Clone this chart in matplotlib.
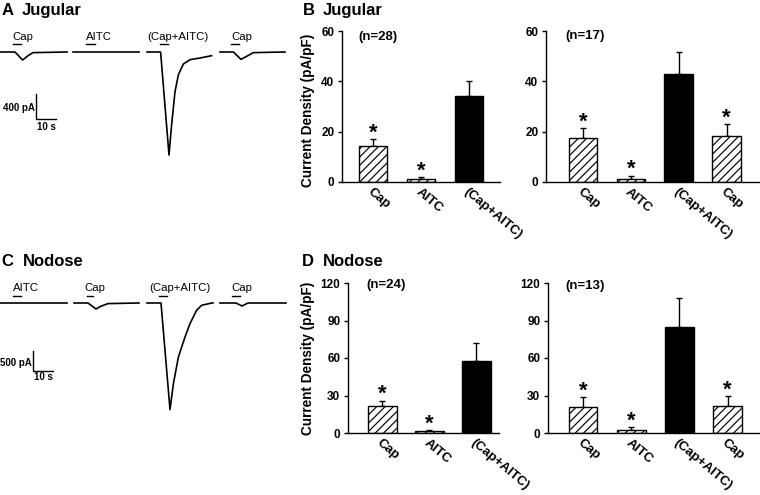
import numpy as np
import matplotlib
matplotlib.use("Agg")
import matplotlib.pyplot as plt

plt.rcParams['font.family'] = ['Liberation Sans', 'DejaVu Sans']
plt.rcParams['hatch.linewidth'] = 0.85

W, H = 760, 495

# ---- whole-cell traces: time (s) from segment start, current (pA)
jug_labels = ['Cap', 'AITC', '(Cap+AITC)', 'Cap']
jug_starts = [0, 36.5, 73.5, 110]
jug_t = [
    [0, 7.5, 11.3, 14, 16.5, 33.5],
    [0, 33],
    [0, 6.8, 11, 12.3, 14, 15.7, 18.2, 21.5, 26.5, 32.3],
    [0, 6.7, 10.5, 14.2, 16.7, 32.5],
]
jug_i = [
    [0, 0, -128, -60, -10, 0],
    [0, 0],
    [0, 0, -1648, -1168, -635, -363, -192, -123, -96, -59],
    [0, 0, -118, -54, -10, 0],
]
jug_stim = [(6.7, 10.3), (6.5, 11.0), (6.3, 10.3), (5.5, 9.7)]
jug_label_x = [6.3, 6.5, 0.2, 5.5]

nod_labels = ['AITC', 'Cap', '(Cap+AITC)', 'Cap']
nod_starts = [0, 37, 73.5, 110]
nod_t = [
    [0, 33.5],
    [0, 7, 11, 13.5, 17, 32.5],
    [0, 7, 11.5, 13.2, 15.7, 19, 21.5, 24.8, 27.3, 32.3, 33],
    [0, 8, 11, 14, 33],
]
nod_i = [
    [0, 0],
    [0, 0, -150, -80, -15, 0],
    [0, 0, -2665, -2015, -1350, -850, -515, -183, -58, 0, 0],
    [0, 0, -75, 0, 0],
]
nod_stim = [(6.7, 10.3), (6.3, 9.7), (6.0, 10.0), (5.8, 10.0)]
nod_label_x = [6.3, 5.2, 1.0, 5.5]

# ---- current density bars (mean, SEM)
jug28_cats = ['Cap', 'AITC', '(Cap+AITC)']
jug28_mean = [14.5, 1.2, 34.3]
jug28_sem = [2.5, 0.6, 5.8]
jug28_star = [True, True, False]

jug17_cats = ['Cap', 'AITC', '(Cap+AITC)', 'Cap']
jug17_mean = [17.4, 1.3, 43.0, 18.4]
jug17_sem = [3.9, 1.2, 8.5, 4.6]
jug17_star = [True, True, False, True]

nod24_cats = ['Cap', 'AITC', '(Cap+AITC)']
nod24_mean = [21.6, 1.6, 57.9]
nod24_sem = [4.4, 0.8, 14.4]
nod24_star = [True, True, False]

nod13_cats = ['Cap', 'AITC', '(Cap+AITC)', 'Cap']
nod13_mean = [21.1, 2.7, 85.0, 21.3]
nod13_sem = [7.4, 1.8, 22.7, 8.0]
nod13_star = [True, True, False, True]

fig = plt.figure(figsize=(W / 100, H / 100), dpi=100)


def px_axes(x0, y0, x1, y1):
    return fig.add_axes([x0 / W, 1 - y1 / H, (x1 - x0) / W, (y1 - y0) / H])


def fig_text(x, y, s, **kw):
    fig.text(x / W, 1 - y / H, s, **kw)


def traces(ax, starts, ts, cur, stim, lab_x, labels, bar_y, lab_y):
    for s0, t, i, st, lx, lab in zip(starts, ts, cur, stim, lab_x, labels):
        ax.plot(np.array(t) + s0, i, color='k', lw=1.2, solid_joinstyle='round')
        ax.plot([s0 + st[0], s0 + st[1]], [bar_y, bar_y], color='k', lw=1.0)
        ax.text(s0 + lx, lab_y, lab, fontsize=8.2, ha='left', va='baseline')
    ax.axis('off')


def scalebar(ax, x, y_top, y_bot, dt, amp_txt, t_txt, amp_y, t_y):
    ax.plot([x, x, x + dt], [y_top, y_bot, y_bot], color='k', lw=1.0)
    ax.text(x - 0.6, amp_y, amp_txt, fontsize=7, fontweight='bold',
            ha='right', va='center')
    ax.text(x + dt / 2 + 0.3, t_y, t_txt, fontsize=7, fontweight='bold',
            ha='center', va='center')


# panel A
axA = px_axes(0, 25, 290, 170)
axA.set_xlim(0, 145)
axA.set_ylim(-1888, 432)
traces(axA, jug_starts, jug_t, jug_i, jug_stim, jug_label_x, jug_labels, 125, 190)
scalebar(axA, 18, -672, -1072, 10, '400 pA', '10 s', -896, -1195)

# panel C
axC = px_axes(0, 275, 290, 420)
axC.set_xlim(0, 145)
axC.set_ylim(-2925, 700)
traces(axC, nod_starts, nod_t, nod_i, nod_stim, nod_label_x, nod_labels, 175, 300)
scalebar(axC, 16.5, -1200, -1700, 10, '500 pA', '10 s', -1500, -1842)


def bars(box, xlim, cats, mean, sem, star, ymax, yticks, nlab, nlab_px):
    ax = px_axes(*box)
    x = np.arange(len(cats))
    colors = ['k' if c.startswith('(') else 'white' for c in cats]
    hatches = ['' if c.startswith('(') else '////' for c in cats]
    ax.errorbar(x, mean, yerr=[np.zeros(len(x)), sem], fmt='none', ecolor='k',
                elinewidth=1.0, capsize=2.2, capthick=1.0, zorder=1)
    ax.bar(x, mean, width=0.6, color=colors, edgecolor='k', hatch=hatches,
           linewidth=1.0, zorder=2)
    for xi, m, s, st in zip(x, mean, sem, star):
        if st:
            ax.annotate('*', (xi, m + s), xytext=(0, 0.5),
                        textcoords='offset points', ha='center',
                        va='baseline', fontsize=16, fontweight='bold')
    ax.set_xlim(*xlim)
    ax.set_ylim(0, ymax)
    ax.set_yticks(yticks)
    ax.set_yticklabels([str(v) for v in yticks], fontsize=8.5, fontweight='bold')
    ax.set_xticks(x)
    ax.set_xticklabels(cats, rotation=-40, ha='left', va='top',
                       rotation_mode='anchor', fontsize=9.5, fontweight='bold')
    ax.tick_params(axis='x', length=0, pad=3)
    ax.tick_params(axis='y', direction='out', length=3, width=1.0, pad=2.5)
    for side in ['top', 'right']:
        ax.spines[side].set_visible(False)
    for side in ['left', 'bottom']:
        ax.spines[side].set_linewidth(1.0)
    ax.patch.set_alpha(0)
    fig_text(nlab_px[0], nlab_px[1], nlab, fontsize=9.5, fontweight='bold',
             ha='left', va='center')
    return ax


bars((342, 31, 500, 182), (-0.646, 2.646), jug28_cats, jug28_mean, jug28_sem,
     jug28_star, 60, [0, 20, 40, 60], '(n=28)', (358, 37))
bars((546, 31, 760, 182), (-0.774, 3.70), jug17_cats, jug17_mean, jug17_sem,
     jug17_star, 60, [0, 20, 40, 60], '(n=17)', (565, 36))
bars((348, 283, 499, 433), (-0.734, 2.479), nod24_cats, nod24_mean, nod24_sem,
     nod24_star, 120, [0, 30, 60, 90, 120], '(n=24)', (366, 285))
bars((548, 283, 760, 433), (-0.726, 3.67), nod13_cats, nod13_mean, nod13_sem,
     nod13_star, 120, [0, 30, 60, 90, 120], '(n=13)', (565, 286))

for y in [110, 358]:
    fig_text(308, y, 'Current Density (pA/pF)', fontsize=9.8, fontweight='bold',
             rotation=90, ha='center', va='center')

# panel letters and titles
for lx, wx, by, letter, word in [(2, 22, 15, 'A', 'Jugular'),
                                  (303, 322.5, 15, 'B', 'Jugular'),
                                  (1, 22.7, 266, 'C', 'Nodose'),
                                  (302, 323.3, 266, 'D', 'Nodose')]:
    fig_text(lx, by, letter, fontsize=12, fontweight='bold', va='baseline')
    fig_text(wx, by, word, fontsize=12, fontweight='bold', va='baseline')

fig.savefig('out.png', dpi=100)
